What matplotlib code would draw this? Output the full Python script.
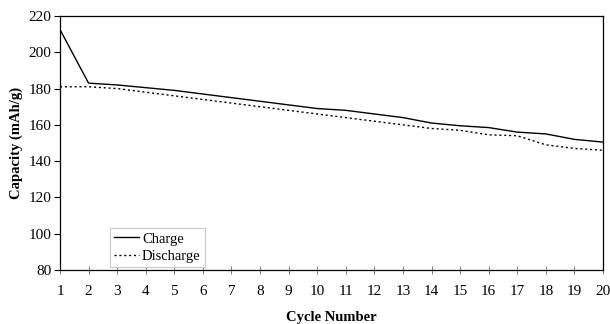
import matplotlib
matplotlib.use('Agg')
from matplotlib import pyplot as plt
import numpy as np

cycles = list(range(1, 21))
charge = [212.5, 183, 182, 180.5, 179, 177, 175, 173, 171, 169,
          168, 166, 164, 161, 159.5, 158.5, 156, 155, 152, 150.5]
discharge = [181, 181, 180, 178, 176, 174, 172, 170, 168, 166,
             164, 162, 160, 158, 157, 154.5, 154, 149, 147, 146]

plt.rcParams['font.family'] = ['Liberation Serif', 'DejaVu Serif']

fig = plt.figure(figsize=(6.1, 3.24), dpi=100)
ax = fig.add_axes([60 / 610, 54 / 324, 543 / 610, 254 / 324])

ax.plot(cycles, charge, color='black', linewidth=1.0, label='Charge')
ax.plot(cycles, discharge, color='black', linewidth=1.0, linestyle=(0, (1.5, 2)), label='Discharge')

ax.set_xlim(1, 20)
ax.set_ylim(80, 220)
ax.set_xticks(cycles)
ax.set_yticks(np.arange(80, 221, 20))
ax.tick_params(axis='x', direction='inout', length=6, width=0.6, color='#666666', labelsize=11, pad=8)
ax.tick_params(axis='y', direction='out', length=4, width=0.8, labelsize=11, pad=2)
for s in ax.spines.values():
    s.set_linewidth(0.9)

ax.set_xlabel('Cycle Number', fontweight='bold', fontsize=10.5, labelpad=9)
ax.set_ylabel('Capacity (mAh/g)', fontweight='bold', fontsize=10.5, labelpad=4)

leg = ax.legend(loc='lower left', bbox_to_anchor=(50 / 543, 0.01), fontsize=10.5,
                frameon=True, fancybox=False, edgecolor='#bbbbbb', handlelength=1.7,
                handletextpad=0.2, borderpad=0.3, labelspacing=0.3, borderaxespad=0)
leg.get_frame().set_linewidth(0.8)

plt.savefig('out.png', dpi=100)
